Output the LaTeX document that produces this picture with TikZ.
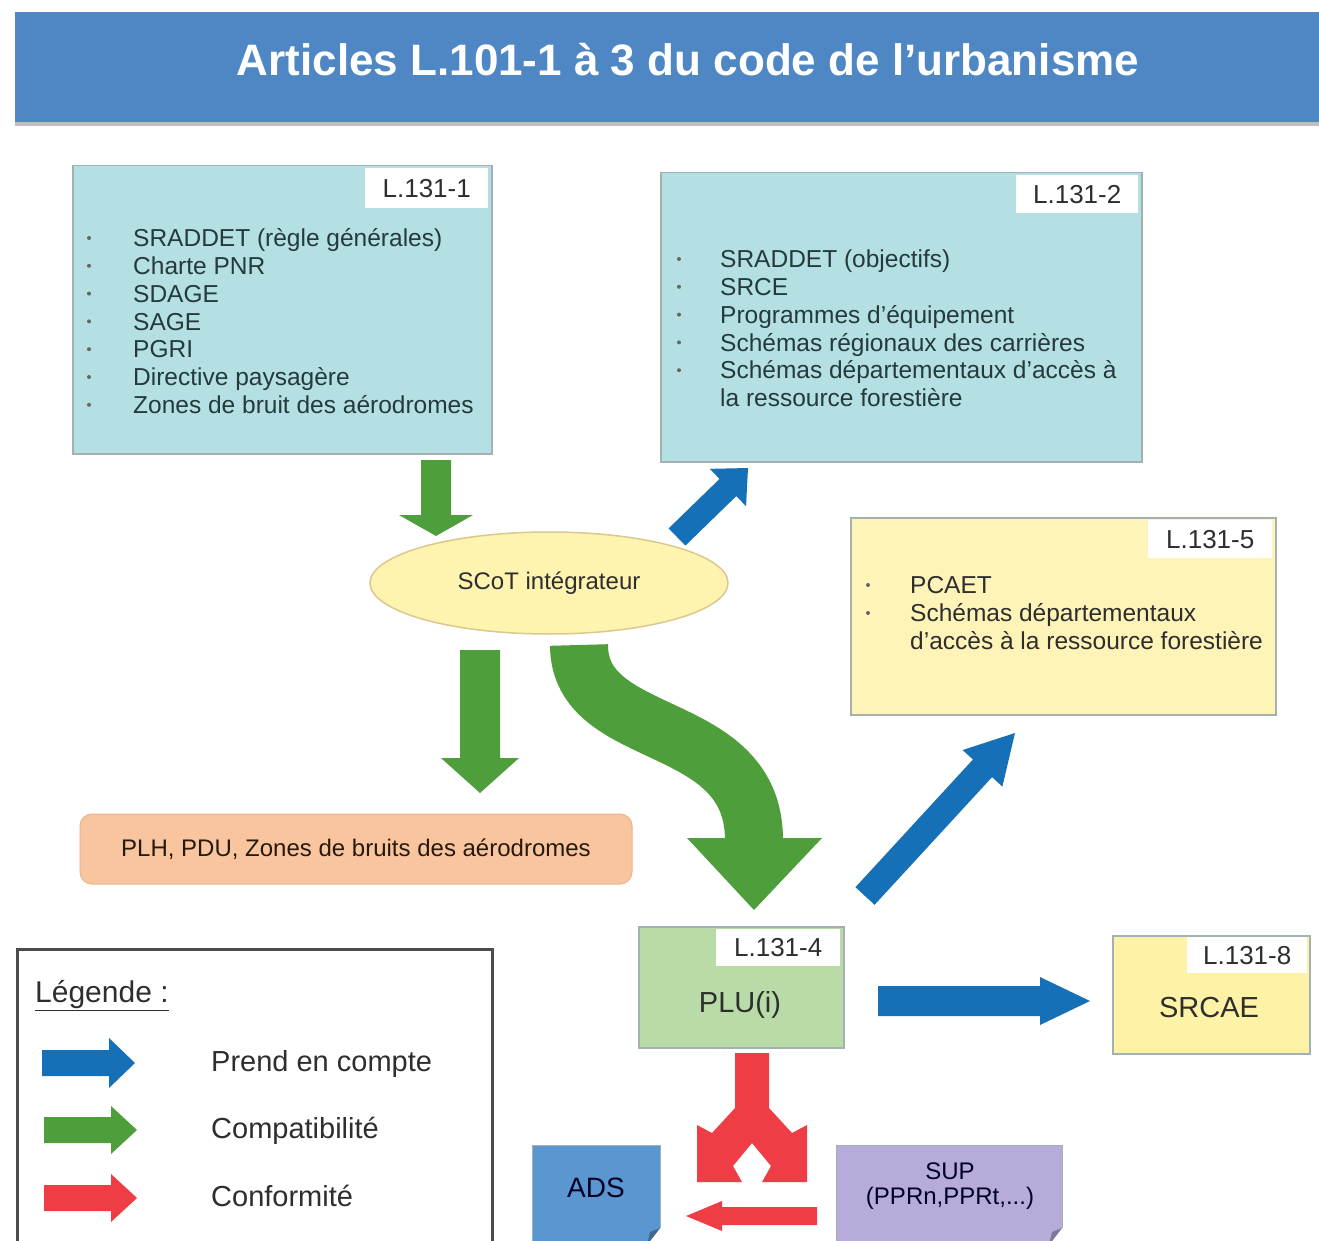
\documentclass[tikz,border=0pt]{standalone}
\usepackage{fontspec}
\setmainfont{Liberation Sans}
\usetikzlibrary{shapes.geometric,calc}
\definecolor{titlebg}{HTML}{4F87C5}
\definecolor{teal}{HTML}{B4E0E3}
\definecolor{tealtxt}{HTML}{253A3D}
\definecolor{boxline}{HTML}{A3B1B2}
\definecolor{yel}{HTML}{FFF4B8}
\definecolor{yel2}{HTML}{FEF2A6}
\definecolor{ellfill}{HTML}{FFF3B0}
\definecolor{ellline}{HTML}{D9C98C}
\definecolor{plugreen}{HTML}{B8DBA7}
\definecolor{orangebg}{HTML}{F9C59E}
\definecolor{orangeline}{HTML}{EDB48A}
\definecolor{adsblue}{HTML}{5A97D0}
\definecolor{suppurple}{HTML}{B7ABD9}
\definecolor{agreen}{HTML}{4F9E3C}
\definecolor{ablue}{HTML}{1570B8}
\definecolor{ared}{HTML}{EE3D45}
\definecolor{darktxt}{HTML}{2E2E2E}
\newcommand\blkarrow[6]{%
  \coordinate (hb) at ($(#3)!#6!(#2)$);
  \fill[#1] ($(#2)!#4!90:(#3)$) -- ($(hb)!#4!90:(#3)$) -- ($(hb)!#5!90:(#3)$) -- (#3)
    -- ($(hb)!#5!-90:(#3)$) -- ($(hb)!#4!-90:(#3)$) -- ($(#2)!#4!-90:(#3)$) -- cycle;}
\begin{document}
\begin{tikzpicture}[x=1pt,y=-1pt,
  box/.style={draw=boxline, line width=1.5pt, anchor=north west, inner sep=0pt},
  lbl/.style={fill=white, inner sep=0pt, font=\fontsize{26}{30}\selectfont, text=darktxt},
  item/.style={anchor=west, inner sep=0pt, font=\fontsize{24.5}{28}\selectfont, text height=17.5pt, text depth=0pt},
  bul/.style={circle, fill=#1, inner sep=0pt, minimum size=4pt},
  legtxt/.style={anchor=west, inner sep=0pt, font=\fontsize{29}{33}\selectfont, text=darktxt, text height=21pt, text depth=0pt},
  bigtxt/.style={font=\fontsize{29}{33}\selectfont, text=darktxt}]
\clip (0,0) rectangle (1319,1241);
\fill[white] (0,0) rectangle (1319,1241);

% title bar
\fill[black!25] (15,122) rectangle (1330,126);
\node[fill=titlebg, minimum width=1315pt, minimum height=110pt, anchor=north west, inner sep=0pt] (title) at (15,12) {};
\node[text=white, font=\fontsize{44}{50}\selectfont\bfseries] (titletxt) at (688,60) {Articles L.101-1 à 3 du code de l’urbanisme};

% box L.131-1
\node[box, fill=teal, minimum width=419pt, minimum height=288pt] (b1) at (72,165) {};
\node[lbl, minimum width=123pt, minimum height=40pt, anchor=north west] (b1l) at (365,168) {L.131-1};
\foreach \t [count=\i] in {{SRADDET (règle générales)},{Charte PNR},{SDAGE},{SAGE},{PGRI},{Directive paysagère},{Zones de bruit des aérodromes}}{
  \node[item, text=tealtxt] (b1i\i) at (133,{238+(\i-1)*27.8}) {\t};
  \node[bul=gray!80!black] (b1b\i) at (89,{238+(\i-1)*27.8}) {};
}

% box L.131-2
\node[box, fill=teal, minimum width=481pt, minimum height=289pt] (b2) at (660,172) {};
\node[lbl, minimum width=122pt, minimum height=38pt, anchor=north west] (b2l) at (1016,175) {L.131-2};
\foreach \t [count=\i] in {{SRADDET (objectifs)},{SRCE},{Programmes d’équipement},{Schémas régionaux des carrières},{Schémas départementaux d’accès à}}{
  \node[item, text=tealtxt] (b2i\i) at (720,{259+(\i-1)*27.8}) {\t};
  \node[bul=gray!80!black] (b2b\i) at (679,{259+(\i-1)*27.8}) {};
}
\node[item, text=tealtxt] (b2i6) at (720,398) {la ressource forestière};

% box L.131-5
\node[box, fill=yel, minimum width=425pt, minimum height=197pt] (b5) at (850,517) {};
\node[lbl, minimum width=124pt, minimum height=38pt, anchor=north west] (b5l) at (1148,520) {L.131-5};
\node[item, text=darktxt] (b5i1) at (910,585) {PCAET};
\node[bul=gray!80!black] (b5b1) at (868,585) {};
\node[item, text=darktxt] (b5i2) at (910,613) {Schémas départementaux};
\node[bul=gray!80!black] (b5b2) at (868,613) {};
\node[item, text=darktxt] (b5i3) at (910,641) {d’accès à la ressource forestière};

% SCoT ellipse
\node[ellipse, fill=ellfill, draw=ellline, line width=1.5pt, minimum width=358pt, minimum height=102pt, inner sep=0pt,
  font=\fontsize{24}{28}\selectfont, text=darktxt] (scot) at (549,583) {SCoT intégrateur};

% orange box
\node[rectangle, rounded corners=12pt, fill=orangebg, draw=orangeline, line width=1pt, minimum width=552pt, minimum height=70pt,
  font=\fontsize{24}{28}\selectfont, text=black!80!brown] (plh) at (356,849) {PLH, PDU, Zones de bruits des aérodromes};

% PLU
\node[box, fill=plugreen, minimum width=205pt, minimum height=121pt] (plu) at (638,926) {};
\node[lbl, minimum width=124pt, minimum height=37pt, anchor=north west] (plul) at (716,929) {L.131-4};
\node[bigtxt] (plut) at (740,1005) {PLU(i)};

% SRCAE
\node[box, fill=yel2, minimum width=197pt, minimum height=118pt] (srcae) at (1112,935) {};
\node[lbl, minimum width=120pt, minimum height=36pt, anchor=north west] (srcael) at (1187,937) {L.131-8};
\node[bigtxt] (srcaet) at (1209,1008) {SRCAE};

% ADS and SUP (folded corners)
\fill[adsblue] (532,1145) -- (660,1145) -- (660,1228) -- (647,1245) -- (532,1245) -- cycle;
\draw[boxline, line width=1pt] (532,1245) -- (532,1145) -- (660,1145) -- (660,1228);
\fill[adsblue!70!black] (660,1228) -- (647,1245) -- (650,1232) -- cycle;
\node[font=\fontsize{28}{32}\selectfont, text=black!85!blue] (ads) at (596,1188) {ADS};
\fill[suppurple] (836,1145) -- (1062,1145) -- (1062,1228) -- (1049,1245) -- (836,1245) -- cycle;
\draw[boxline, line width=1pt] (836,1245) -- (836,1145) -- (1062,1145) -- (1062,1228);
\fill[suppurple!70!black] (1062,1228) -- (1049,1245) -- (1052,1232) -- cycle;
\node[font=\fontsize{24}{28}\selectfont, text=black!85!blue, align=center] (sup) at (950,1186) {SUP\\[-3pt](PPRn,PPRt,...)};

% legend
\node[draw=black!70, line width=2.5pt, fill=white, minimum width=475pt, minimum height=320pt, anchor=north west, inner sep=0pt] (leg) at (16,948) {};
\node[anchor=west, inner sep=0pt, font=\fontsize{30}{34}\selectfont, text=darktxt] (legt) at (35,996) {\underline{Légende :}};
\node[legtxt] (leg1) at (211,1061) {Prend en compte};
\node[legtxt] (leg2) at (211,1128) {Compatibilité};
\node[legtxt] (leg3) at (211,1196) {Conformité};
\coordinate (lb1) at (42,1063); \coordinate (lb2) at (135,1063);
\coordinate (lg1) at (44,1130); \coordinate (lg2) at (137,1130);
\coordinate (lr1) at (44,1198); \coordinate (lr2) at (137,1198);
\blkarrow{ablue}{lb1}{lb2}{13pt}{25pt}{26pt}
\blkarrow{agreen}{lg1}{lg2}{13pt}{24pt}{26pt}
\blkarrow{ared}{lr1}{lr2}{13pt}{24pt}{26pt}

% arrows
\coordinate (a1s) at (436,460); \coordinate (a1e) at (436,536);
\blkarrow{agreen}{a1s}{a1e}{15pt}{37pt}{21pt}
\coordinate (a2s) at (677,537); \coordinate (a2e) at (748,468);
\blkarrow{ablue}{a2s}{a2e}{12pt}{26pt}{28pt}
\coordinate (a3s) at (480,650); \coordinate (a3e) at (480,793);
\blkarrow{agreen}{a3s}{a3e}{20pt}{39pt}{35pt}
\coordinate (a5s) at (865,896); \coordinate (a5e) at (1015,733);
\blkarrow{ablue}{a5s}{a5e}{13pt}{27pt}{48pt}
\coordinate (a6s) at (878,1001); \coordinate (a6e) at (1090,1001);
\blkarrow{ablue}{a6s}{a6e}{15pt}{24pt}{50pt}
\coordinate (a8s) at (817,1216); \coordinate (a8e) at (686,1216);
\blkarrow{ared}{a8s}{a8e}{9pt}{15pt}{36pt}

% curved green arrow SCoT -> PLU
\coordinate (c1) at (579,645); \coordinate (c2) at (754,840);
\draw[agreen, line width=58pt] (c1) .. controls (579,745) and (754,715) .. (c2);
\fill[agreen] (687,838) -- (822,838) -- (754,910) -- cycle;

% red fork
\fill[ared] (735,1053) -- (769,1053) -- (769,1108) -- (792,1133) -- (807,1125) -- (807,1182) -- (762,1182)
  -- (771,1166) -- (752,1143) -- (733,1166) -- (742,1182) -- (697,1182) -- (697,1125) -- (712,1133) -- (735,1108) -- cycle;
\end{tikzpicture}
\end{document}
